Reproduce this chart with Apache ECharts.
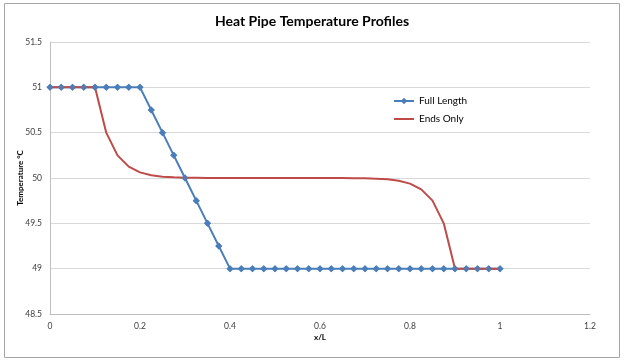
<!DOCTYPE html>
<html>
<head>
<meta charset="utf-8">
<script src="https://cdn.jsdelivr.net/npm/echarts@6/dist/echarts.min.js"></script>
<style>html,body{margin:0;padding:0;background:#fff}#c{width:624px;height:362px}</style>
</head>
<body>
<div id="c"></div>
<script>
var xValues = [0,0.025,0.05,0.075,0.1,0.125,0.15,0.175,0.2,0.225,0.25,0.275,0.3,0.325,0.35,0.375,0.4,0.425,0.45,0.475,0.5,0.525,0.55,0.575,0.6,0.625,0.65,0.675,0.7,0.725,0.75,0.775,0.8,0.825,0.85,0.875,0.9,0.925,0.95,0.975,1.0];
var fullLength = [51,51,51,51,51,51,51,51,51,50.75,50.5,50.25,50,49.75,49.5,49.25,49,49,49,49,49,49,49,49,49,49,49,49,49,49,49,49,49,49,49,49,49,49,49,49,49];
var endsOnly = [51,51,51,51,51,50.5,50.25,50.125,50.062,50.03,50.015,50.008,50.004,50.002,50,50,50,50,50,50,50,50,50,50,50,50,50,49.998,49.996,49.992,49.985,49.97,49.938,49.875,49.75,49.5,49,49,49,49,49];
var xTicks = {min:0, max:1.2, interval:0.2};
var yTicks = {min:48.5, max:51.5, interval:0.5};

function pairs(ys){ return xValues.map(function(x,i){ return [x, ys[i]]; }); }

var blue = '#4a7ebb', red = '#be4b48';
var font = 'Lato, "Open Sans", sans-serif';
var chart = echarts.init(document.getElementById('c'));
chart.setOption({
  animation:false,
  textStyle:{fontFamily:font},
  graphic:[{type:'rect', shape:{x:4.5,y:3.5,width:615,height:354}, style:{fill:null, stroke:'#a6a6a6', lineWidth:1}, silent:true}],
  title:{text:'Heat Pipe Temperature Profiles', left:'center', top:9, textStyle:{fontFamily:font, fontSize:14, fontWeight:'bold', color:'#000'}},
  legend:{orient:'vertical', left:388, top:91, itemGap:8, itemWidth:20, itemHeight:8,
    data:[{name:'Full Length'}, {name:'Ends Only', itemStyle:{opacity:0}}],
    textStyle:{fontFamily:font, fontSize:10, color:'#000'}},
  grid:{left:50, right:34, top:42, bottom:48},
  xAxis:{type:'value', min:xTicks.min, max:xTicks.max, interval:xTicks.interval,
    name:'x/L', nameLocation:'middle', nameGap:19, nameMoveOverlap:false,
    nameTextStyle:{fontFamily:font, fontSize:8, fontWeight:'bold', color:'#000'},
    axisLine:{lineStyle:{color:'#bfbfbf'}}, axisTick:{show:false}, splitLine:{show:false},
    axisLabel:{fontSize:8.5, color:'#404040', margin:8}},
  yAxis:{type:'value', min:yTicks.min, max:yTicks.max, interval:yTicks.interval,
    name:'Temperature °C', nameLocation:'middle', nameGap:26, nameMoveOverlap:false,
    nameTextStyle:{fontFamily:font, fontSize:8, fontWeight:'bold', color:'#000'},
    axisLine:{show:true, lineStyle:{color:'#bfbfbf'}}, axisTick:{show:false},
    splitLine:{lineStyle:{color:'#d9d9d9'}},
    axisLabel:{fontSize:8.5, color:'#404040', margin:8}},
  series:[
    {name:'Full Length', type:'line', data:pairs(fullLength), z:2, color:blue,
      symbol:'diamond', symbolSize:7, showAllSymbol:true, lineStyle:{width:2, color:blue}, itemStyle:{color:blue}},
    {name:'Ends Only', type:'line', data:pairs(endsOnly), z:3, color:red,
      symbol:'none', lineStyle:{width:2, color:red}, itemStyle:{color:red}},
    {name:'Full Length', type:'scatter', data:pairs(fullLength), z:4,
      symbol:'diamond', symbolSize:7, itemStyle:{color:blue}}
  ]
});
</script>
</body>
</html>
